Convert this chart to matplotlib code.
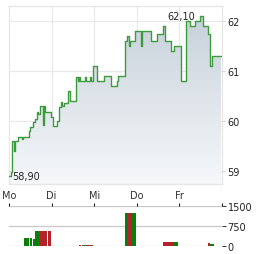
import numpy as np
import matplotlib
matplotlib.use('Agg')
import matplotlib.pyplot as plt
from matplotlib.patches import Polygon
from matplotlib.colors import LinearSegmentedColormap

# Kursverlauf: Zeit in Handelstagen ab Montag, Kurs in EUR
price_t = [0.00, 0.05, 0.08, 0.12, 0.14, 0.21, 0.31, 0.33, 0.47, 0.49,
           0.56, 0.61, 0.66, 0.68, 0.72, 0.80, 0.82, 0.85, 0.99, 1.03,
           1.13, 1.17, 1.22, 1.24, 1.29, 1.38, 1.43, 1.57, 1.61, 1.64,
           1.67, 1.78, 1.81, 1.90, 1.92, 1.97, 2.07, 2.23, 2.39, 2.54,
           2.56, 2.72, 2.77, 2.81, 2.84, 2.96, 3.09, 3.13, 3.33, 3.47,
           3.62, 3.67, 3.81, 3.87, 4.04, 4.15, 4.25, 4.37, 4.48, 4.55,
           4.67, 4.73, 4.77]
price_v = [58.90, 58.98, 59.60, 59.40, 59.60, 59.68, 59.64, 59.68, 59.80, 59.88,
           59.98, 60.05, 60.18, 60.14, 60.30, 59.92, 60.30, 60.18, 60.08, 59.90,
           60.00, 60.28, 60.38, 60.30, 60.36, 60.60, 60.40, 60.88, 60.80, 60.88,
           60.80, 60.88, 60.80, 60.88, 60.80, 61.10, 60.80, 60.90, 60.70, 60.80,
           60.90, 61.60, 61.70, 61.50, 61.60, 61.80, 61.50, 61.80, 61.60, 61.75,
           61.90, 61.60, 61.40, 61.50, 60.80, 62.00, 61.90, 62.00, 62.10, 61.90,
           61.75, 61.10, 61.30]
t_end = 4.98

day_labels = ['Mo', 'Di', 'Mi', 'Do', 'Fr']
price_ticks = [59, 60, 61, 62]

# Umsatz (Stück): Zeitraum von/bis, Volumen, gruen = steigend
vol_t0 = [0.352, 0.493, 0.563, 0.610, 0.634, 0.664, 0.688, 0.711, 0.791, 0.822,
          0.915, 1.643, 1.714, 1.808, 1.901, 1.948, 2.723, 2.800, 2.880, 3.615,
          3.866, 4.671, 4.730]
vol_t1 = [0.477, 0.547, 0.606, 0.627, 0.664, 0.688, 0.711, 0.791, 0.822, 0.899,
          0.986, 1.690, 1.808, 1.901, 1.948, 1.972, 2.800, 2.880, 2.981, 3.866,
          3.960, 4.725, 4.805]
vol_v = [290, 290, 250, 560, 560, 560, 560, 560, 560, 560,
         560, 50, 50, 50, 50, 50, 1240, 1240, 1240, 140,
         140, 100, 75]
vol_up = [1, 1, 1, 1, 1, 0, 1, 0, 1, 0,
          0, 0, 1, 0, 1, 0, 1, 0, 1, 0,
          1, 0, 1]
vol_ticks = [0, 750, 1500]

W, H = 264, 255
fig = plt.figure(figsize=(W / 100, H / 100), dpi=100)
fig.patch.set_facecolor('white')
plt.rcParams['font.family'] = ['DejaVu Sans']

x0, x1 = 9 / W, 222 / W
ax = fig.add_axes([x0, 1 - 185 / H, x1 - x0, (185 - 7) / H])
axv = fig.add_axes([x0, 1 - 247 / H, x1 - x0, (247 - 207) / H])

ylo, yhi = 58.74, 62.30
ax.set_xlim(0, 5)
ax.set_ylim(ylo, yhi)

# Stufenlinie als Polygon fuer den Verlauf
xs, ys = [price_t[0]], [price_v[0]]
for i in range(1, len(price_t)):
    xs += [price_t[i], price_t[i]]
    ys += [price_v[i - 1], price_v[i]]
xs.append(t_end)
ys.append(price_v[-1])

poly = Polygon(list(zip(xs, ys)) + [(t_end, ylo), (price_t[0], ylo)],
               closed=True, facecolor='none', edgecolor='none')
ax.add_patch(poly)
cmap = LinearSegmentedColormap.from_list('fill', ['#f6f8fa', '#c6d0da'])
grad = np.linspace(0, 1, 256).reshape(-1, 1)
im = ax.imshow(grad, cmap=cmap, origin='lower', aspect='auto',
               extent=[0, 5, ylo, 62.2], zorder=1)
im.set_clip_path(poly)

ax.plot(xs, ys, color='#3d9b3d', lw=1.0, zorder=3)

for d in range(1, 5):
    ax.axvline(d, color='#e9e9e9', lw=0.9, zorder=0)
for p in price_ticks:
    ax.axhline(p, color='#e9e9e9', lw=0.9, zorder=0)

ax.set_xticks(range(5))
ax.set_xticklabels(day_labels)
ax.set_yticks(price_ticks)
ax.set_yticklabels([str(p) for p in price_ticks])
ax.yaxis.tick_right()
ax.tick_params(axis='x', length=0, pad=4, labelsize=7, labelcolor='#333333')
ax.tick_params(axis='y', length=2.5, width=0.7, color='#d0d0d0', pad=1.5,
               labelsize=7, labelcolor='#222222')
for s in ax.spines.values():
    s.set_color('#e6e6e6')
    s.set_linewidth(0.9)

# Max / Min beschriften
i_max = int(np.argmax(price_v))
i_min = int(np.argmin(price_v))
ax.annotate(f'{price_v[i_max]:.2f}'.replace('.', ','), (price_t[i_max], price_v[i_max]),
            xytext=(-3.5, 0), textcoords='offset points', ha='right', va='center',
            fontsize=7, color='#222222', zorder=5)
ax.annotate(f'{price_v[i_min]:.2f}'.replace('.', ','), (price_t[i_min], price_v[i_min]),
            xytext=(2.5, 0), textcoords='offset points', ha='left', va='center',
            fontsize=7, color='#222222', zorder=5)

# Umsatzbalken
axv.set_xlim(0, 5)
axv.set_ylim(0, 1500)
for t0, t1, v, up in zip(vol_t0, vol_t1, vol_v, vol_up):
    axv.bar(t0, v, width=t1 - t0, align='edge',
            color='#0a7d0a' if up else '#b5232a', linewidth=0, zorder=2)
for v in vol_ticks:
    axv.axhline(v, color='#c8c8c8', lw=0.9, zorder=1)
for s in axv.spines.values():
    s.set_visible(False)
axv.set_xticks(range(6))
axv.xaxis.tick_top()
axv.tick_params(axis='x', length=2.5, width=0.8, color='#222222', labeltop=False,
                labelbottom=False)
axv.set_yticks(vol_ticks)
axv.yaxis.tick_right()
axv.tick_params(axis='y', length=3, width=0.7, color='#333333', pad=1,
                labelsize=7, labelcolor='#222222')
axv.set_facecolor('none')

fig.savefig('out.png', dpi=100, facecolor='white')
